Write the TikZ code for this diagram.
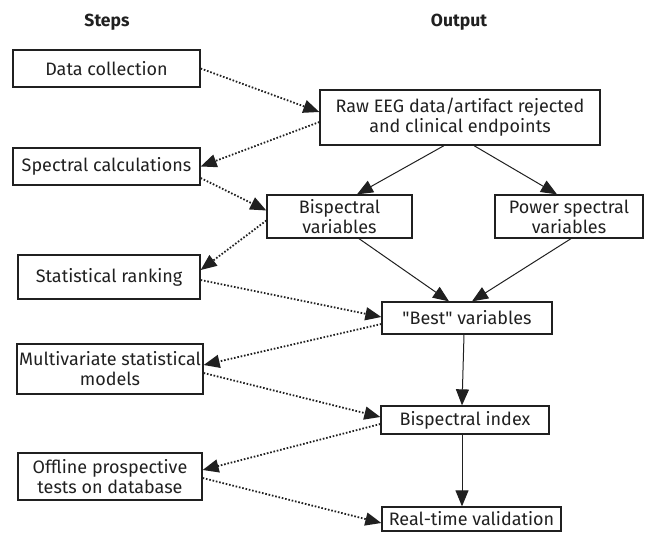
\documentclass[tikz,border=0pt]{standalone}
\usepackage{fontspec}
\setmainfont{Fira Sans}
\usetikzlibrary{arrows.meta}
\definecolor{ink}{HTML}{202020}
\tikzset{
  box/.style={draw=ink, line width=1.3pt, rectangle, inner sep=0pt, text=ink,
    font=\fontsize{18}{20}\selectfont, align=center},
  hdr/.style={text=ink, font=\fontsize{17.5}{20}\selectfont\bfseries},
  tip/.style={-{Triangle[length=16pt,width=13pt]}},
  solidarrow/.style={tip, draw=ink, line width=1pt},
  dotarrow/.style={tip, draw=ink, line width=1.8pt, dash pattern=on 1.6pt off 1.8pt},
}
\begin{document}
\begin{tikzpicture}[x=1pt,y=-1pt]
\useasboundingbox (0,0) rectangle (648,538);
% headers
\node[hdr] (hs) at (107,22) {Steps};
\node[hdr] (ho) at (459,22) {Output};
% step boxes
\node[box, minimum width=187pt, minimum height=37pt] (dc) at (106.5,68.5) {Data collection};
\node[box, minimum width=187pt, minimum height=37pt] (sc) at (106.5,166.5) {Spectral calculations};
\node[box, minimum width=182pt, minimum height=44pt] (sr) at (109,277) {Statistical ranking};
\node[box, minimum width=186pt, minimum height=50pt] (mv) at (110,369) {Multivariate statistical\\models};
\node[box, minimum width=184pt, minimum height=47pt] (of) at (110,476.5) {Offline prospective\\tests on database};
% output boxes
\node[box, minimum width=280pt, minimum height=55pt] (raw) at (460,117.5) {Raw EEG data/artifact rejected\\and clinical endpoints};
\node[box, minimum width=145pt, minimum height=43pt] (bv) at (339.5,216.5) {Bispectral\\variables};
\node[box, minimum width=148pt, minimum height=43pt] (pv) at (569,216.5) {Power spectral\\variables};
\node[box, minimum width=170pt, minimum height=32pt] (best) at (467,318) {\textquotedbl Best\textquotedbl\ variables};
\node[box, minimum width=168pt, minimum height=28pt] (bis) at (465,420) {Bispectral index};
\node[box, minimum width=179pt, minimum height=24pt] (rt) at (471.5,519) {Real-time validation};
% solid arrows
\draw[solidarrow] ([xshift=-16pt]raw.south) -- ([xshift=17.5pt]bv.north);
\draw[solidarrow] ([xshift=14pt]raw.south) -- ([xshift=-12pt]pv.north);
\draw[solidarrow] ([xshift=19.5pt]bv.south) -- ([xshift=-18pt]best.north);
\draw[solidarrow] ([xshift=2pt]pv.south) -- ([xshift=5pt]best.north);
\draw[solidarrow] ([xshift=-3pt]best.south) -- ([xshift=-3pt]bis.north);
\draw[solidarrow] ([xshift=-3pt]bis.south) -- ([xshift=-9.5pt]rt.north);
% dotted arrows
\draw[dotarrow] (dc.east) -- ([yshift=5.5pt]raw.west);
\draw[dotarrow] ([yshift=-4.5pt]raw.west) -- (sc.east);
\draw[dotarrow] ([yshift=-11.5pt]sc.east) -- ([yshift=6pt]bv.west);
\draw[dotarrow] ([yshift=-4pt]bv.west) -- ([yshift=7pt]sr.east);
\draw[dotarrow] ([yshift=-3pt]sr.east) -- ([yshift=1pt]best.west);
\draw[dotarrow] ([yshift=-6pt]best.west) -- ([yshift=4pt]mv.east);
\draw[dotarrow] ([yshift=-4pt]mv.east) -- ([yshift=3pt]bis.west);
\draw[dotarrow] ([yshift=-4pt]bis.west) -- ([yshift=6.5pt]of.east);
\draw[dotarrow] ([yshift=-1.5pt]of.east) -- ([yshift=-4pt]rt.west);
\end{tikzpicture}
\end{document}
